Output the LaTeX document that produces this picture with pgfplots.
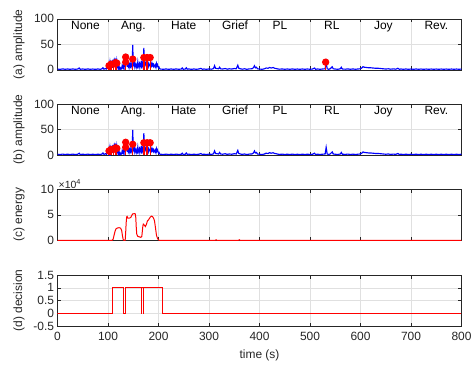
\documentclass[border=0pt]{standalone}
\usepackage{fontspec}
\setmainfont{Liberation Sans}
\usepackage{pgfplots}
\pgfplotsset{compat=1.18}

\definecolor{axgray}{RGB}{38,38,38}
\definecolor{gridgray}{RGB}{224,224,224}
\definecolor{mblue}{RGB}{0,0,255}
\definecolor{mred}{RGB}{255,0,0}

\newcommand{\fs}{\fontsize{12}{14}\selectfont}

\pgfplotsset{
  mstyle/.style={
    width=404bp, height=51bp, scale only axis,
    anchor=north west,
    xmin=0, xmax=800, xtick={0,100,...,800},
    axis line style={axgray, line width=0.6pt},
    tick style={axgray, line width=0.5pt},
    major tick length=3.5bp,
    tick align=inside,
    grid=major,
    major grid style={gridgray, line width=0.5pt},
    ticklabel style={font=\fs, text=axgray},
    label style={font=\fs, text=axgray},
    xticklabel style={yshift=-2.5bp},
    xlabel style={yshift=-3bp},
    /pgf/number format/assume math mode=true,
    ylabel style={at={(axis description cs:-0.095,0.5)}, anchor=center},
    clip mode=individual,
  },
  ampstyle/.style={
    ymin=0, ymax=100, ytick={0,50,100}, xticklabels={},
  },
}

\newcommand{\emolabels}{%
  \node[anchor=base west, font=\fs, text=black] at (axis cs:20,79) {None};
  \node[anchor=base west, font=\fs, text=black] at (axis cs:119,79) {Ang.};
  \node[anchor=base west, font=\fs, text=black] at (axis cs:218,79) {Hate};
  \node[anchor=base west, font=\fs, text=black] at (axis cs:319,79) {Grief};
  \node[anchor=base west, font=\fs, text=black] at (axis cs:419,79) {PL};
  \node[anchor=base west, font=\fs, text=black] at (axis cs:521,79) {RL};
  \node[anchor=base west, font=\fs, text=black] at (axis cs:620,79) {Joy};
  \node[anchor=base west, font=\fs, text=black] at (axis cs:720,79) {Rev.};
}

\pgfplotstableread{
t v
0 1.5
5 0.8
10 1.8
15 1
20 1.6
25 0.9
30 1.7
35 1
40 1.5
43 3.5
45 1
50 1.6
55 0.9
60 1.7
65 1
70 1.5
75 0.9
80 1.6
85 1
88 1.8
90 4
92 1.2
95 2.5
97 1.5
99 5
101 2
102 10
103 3
104 14
105 6
106 18
107 8
108 12
109 4
110 20
111 9
112 16
113 6
114 22
115 10
116 17
117 5
118 14
119 7
120 12
121 3
122 6
123 2
124 4
125 1.5
126 3
127 2
128 8
129 4
130 3
131 12
132 5
133 20
134 9
135 31
136 12
137 26
138 6
139 15
140 8
141 12
142 5
143 10
144 7
145 12
146 6
147 9
148 14
149 49
150 10
151 8
152 12
153 6
154 12
155 9
156 5
157 10
158 7
159 15
160 6
161 9
162 12
163 5
164 12
165 8
166 6
167 18
168 7
169 10
170 12
171 43
172 14
173 9
174 12
175 15
176 8
177 11
178 9
179 12
180 7
181 12
182 9
183 10
184 6
185 11
186 8
187 13
188 9
189 11
190 7
191 10
192 8
193 6
194 9
195 5
196 12
197 8
198 10
199 6
200 4
201 5
202 2
204 1.5
210 1
215 1.7
220 0.9
225 1.6
230 1
235 1.7
240 1
245 1.5
247 3.5
249 1
253 1.5
255 4
257 1.2
260 1.7
265 0.9
270 1.6
275 1
280 1.6
284 2.8
287 1
290 1.6
295 1
300 1.7
305 1.2
309 2.5
311 8
313 3
316 2.5
319 2
321 5
323 2
327 1.5
332 2.5
336 1.2
340 2
345 1.5
350 2.5
354 2
357 9
359 3
362 2
366 1.2
370 2
375 1
380 1.8
385 2
388 4
390 8
392 4
394 5
396 2
400 1.5
405 1
410 2
413 3.5
417 3
420 4.5
423 3.5
427 4.5
430 3
433 2.5
437 1.5
440 1.2
445 1.7
450 1
455 1.6
460 1
465 1.7
470 1
475 1.5
480 1
485 1.6
490 1
495 1.6
500 1
505 1.5
509 3.5
511 1
515 1.6
520 1
525 1.6
530 2
532 15
534 2
537 1
540 2
544 6
546 2
550 1.5
555 1
560 2
562 5
564 1.5
570 1.2
575 1.8
580 1
585 1.7
590 1
595 1.6
600 2
603 4
605 6
608 5
612 4.5
616 4
620 4
625 3.5
630 3
635 3
640 2.5
645 2
650 1.5
655 2
660 1.2
665 1.8
670 1.2
674 3
677 1
680 1.6
685 1
690 1.6
695 1
700 1.5
705 1
710 1.6
715 1
720 1.5
725 1
730 1.5
735 1
740 1.5
745 1
750 1.5
755 1
760 1.5
765 1
770 1.5
775 1
780 1.5
785 1
790 1.5
795 1
800 1.5
}\amptable

\pgfplotstableread{
t v
102 8
106 11
111 11
115 14
117.5 13
135 25
135 15
149 21
171 24
177.5 24
183.5 24
}\stemtable

\pgfplotstableread{
t e
0 0
108 0
110 0.2
112 1.0
114 1.8
116 2.3
119 2.45
122 2.5
125 2.4
127 2.0
128.5 1.0
130 0.2
131.5 0
134 0
135 1.5
136 3.5
137 4.6
138 4.7
139 4.4
141 4.35
143 4.4
145 4.5
147 4.9
149 5.2
152 5.25
154 5.2
155 4.5
156 2.5
157 1.2
159 0.8
162 0.7
165 0.6
167 0.8
168 1.8
169 2.8
170 3.2
172 3.0
174 2.7
176 3.1
178 3.8
180 4.0
182 4.3
184 4.6
186 4.75
188 4.7
190 4.4
192 3.9
194 2.5
196 1.0
198 0.4
200 0.1
202 0
312 0
314 0.12
316 0
358 0
360 0.12
362 0
800 0
}\energytable

\pgfplotstableread{
t d
0 0
108.5 0
108.5 1
131.5 1
131.5 0
134 0
134 1
165.5 1
165.5 0
167 0
167 1
169.5 1
169.5 0
170.5 0
170.5 1
207 1
207 0
800 0
}\decisiontable

\begin{document}
\begin{tikzpicture}
\path[use as bounding box] (0,0) rectangle (476bp,-368bp);

% (a)
\begin{axis}[mstyle, ampstyle, at={(57.5bp,-18.8bp)}, ylabel={(a) amplitude}]
\addplot[mblue, line width=1.15pt] table[x=t, y=v] {\amptable};
\addplot[mred, ycomb, line width=1.3pt, mark=*, mark size=3pt] table[x=t, y=v] {\stemtable};
\addplot[mred, ycomb, line width=1.3pt, mark=*, mark size=3pt] coordinates {(531,15)};
\emolabels
\end{axis}

% (b)
\begin{axis}[mstyle, ampstyle, at={(57.5bp,-104bp)}, ylabel={(b) amplitude}]
\addplot[mblue, line width=1.15pt] table[x=t, y=v] {\amptable};
\addplot[mred, ycomb, line width=1.3pt, mark=*, mark size=3pt] table[x=t, y=v] {\stemtable};
\emolabels
\end{axis}

% (c)
\begin{axis}[mstyle, at={(57.5bp,-189.4bp)}, ymin=0, ymax=10, ytick={0,5,10},
  xticklabels={}, ylabel={(c) energy}]
\addplot[mred, line width=1pt] table[x=t, y=e] {\energytable};
\node[anchor=south west, font=\fontsize{10.5}{12}\selectfont, text=axgray, inner sep=1pt]
  at (axis description cs:0,1) {×10\textsuperscript{4}};
\end{axis}

% (d)
\begin{axis}[mstyle, at={(57.5bp,-275bp)}, ymin=-0.5, ymax=1.5,
  ytick={-0.5,0,0.5,1,1.5}, yticklabels={-0.5,0,0.5,1,1.5},
  ylabel={(d) decision}, xlabel={time (s)}]
\addplot[color=red, line width=0.9pt] table[x=t, y=d] {\decisiontable};
\end{axis}
\end{tikzpicture}
\end{document}
